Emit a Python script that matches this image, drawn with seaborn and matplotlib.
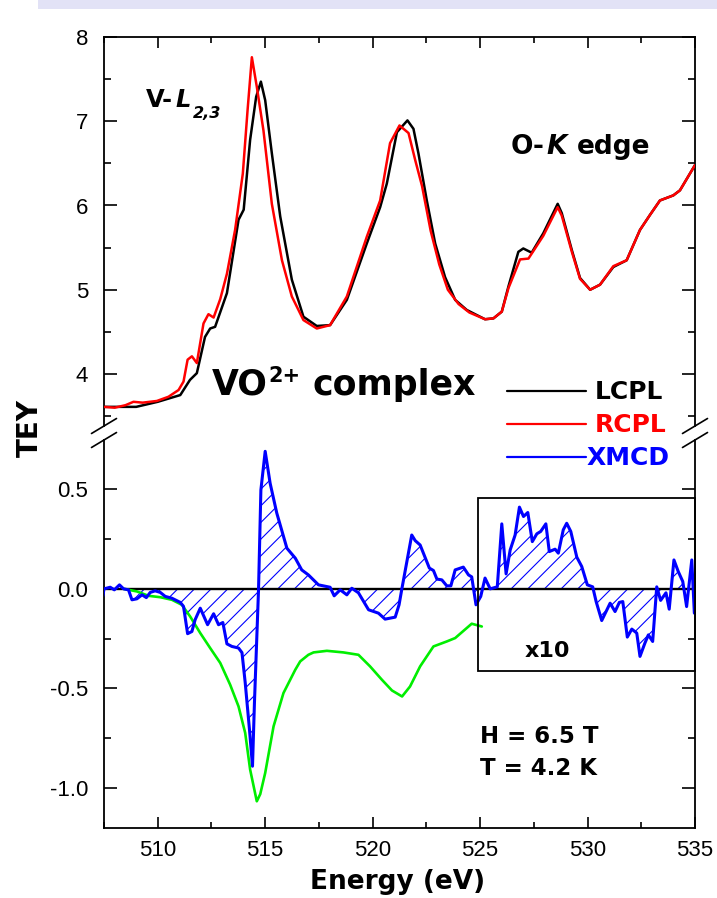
import numpy as np
import pandas as pd
import matplotlib
matplotlib.use("Agg")
import matplotlib.pyplot as plt
import seaborn as sns
from matplotlib.lines import Line2D
from matplotlib.patches import Rectangle
from matplotlib.ticker import MultipleLocator, FixedLocator

# ---------------- data ----------------
E_lcpl = [507.5, 509.0, 510.0, 511.05, 511.5, 511.82, 512.2, 512.44, 512.67, 513.22, 513.76, 514.0,
          514.3, 514.58, 514.8, 515.0, 515.31, 515.7, 516.24, 516.78, 517.4, 518.02, 518.8, 519.73,
          520.35, 520.66, 521.13, 521.62, 521.9, 522.13, 522.52, 522.91, 523.37, 523.84, 524.38, 525.23,
          525.62, 526.01, 526.32, 526.78, 527.01, 527.4, 527.94, 528.61, 528.8, 529.27, 529.65, 530.12,
          530.58, 531.2, 531.82, 532.44, 532.91, 533.37, 533.99, 534.3, 535.0]
tey_lcpl = [3.61, 3.61, 3.67, 3.75, 3.93, 4.01, 4.44, 4.54, 4.56, 4.96, 5.83, 5.95,
            6.78, 7.29, 7.47, 7.25, 6.62, 5.87, 5.12, 4.68, 4.57, 4.58, 4.88, 5.55,
            5.98, 6.26, 6.87, 7.01, 6.91, 6.62, 6.06, 5.55, 5.15, 4.88, 4.76, 4.65,
            4.66, 4.74, 5.04, 5.45, 5.49, 5.44, 5.67, 6.02, 5.91, 5.47, 5.14, 5.0,
            5.06, 5.27, 5.35, 5.71, 5.89, 6.06, 6.12, 6.18, 6.48]

E_rcpl = [507.5, 508.0, 508.5, 508.87, 509.3, 509.96, 510.5, 510.97, 511.2, 511.39, 511.59, 511.82,
          512.13, 512.36, 512.6, 512.91, 513.22, 513.6, 513.96, 514.18, 514.38, 514.61, 514.92, 515.31,
          515.78, 516.24, 516.78, 517.4, 518.02, 518.8, 519.73, 520.35, 520.81, 521.25, 521.67, 521.98,
          522.3, 522.7, 523.1, 523.5, 524.0, 524.5, 525.23, 525.62, 526.01, 526.32, 526.86, 527.25,
          527.94, 528.61, 528.8, 529.27, 529.65, 530.12, 530.58, 531.2, 531.82, 532.44, 532.91, 533.37,
          533.99, 534.3, 535.0]
tey_rcpl = [3.61, 3.60, 3.63, 3.67, 3.66, 3.68, 3.73, 3.81, 3.91, 4.17, 4.21, 4.13,
            4.60, 4.71, 4.67, 4.89, 5.19, 5.71, 6.38, 7.13, 7.76, 7.41, 6.89, 6.02,
            5.35, 4.92, 4.64, 4.54, 4.58, 4.92, 5.63, 6.06, 6.74, 6.95, 6.86, 6.54,
            6.23, 5.7, 5.3, 5.0, 4.83, 4.73, 4.65, 4.66, 4.74, 5.02, 5.36, 5.37,
            5.64, 5.98, 5.88, 5.45, 5.13, 5.0, 5.06, 5.28, 5.35, 5.71, 5.89, 6.06,
            6.12, 6.18, 6.48]

E_xmcd = [507.45, 507.5, 507.79, 507.98, 508.22, 508.41, 508.64, 508.8, 509.03, 509.27,
          509.47, 509.65, 509.88, 510.12, 510.35, 510.66, 511.05, 511.2, 511.39, 511.59,
          511.74, 511.98, 512.32, 512.6, 512.83, 513.03, 513.22, 513.45, 513.76, 513.92,
          514.07, 514.27, 514.41, 514.5, 514.69, 514.8, 515.0, 515.23, 515.54, 516.01,
          516.4, 516.7, 517.01, 517.48, 518.02, 518.21, 518.49, 518.8, 519.03, 519.34,
          519.81, 520.27, 520.58, 521.05, 521.23, 521.36, 521.82, 521.98, 522.21, 522.64,
          522.83, 522.99, 523.22, 523.45, 523.64, 523.84, 524.22, 524.46, 524.61, 524.81,
          525.03, 525.23, 525.47, 525.8, 526.01, 526.21, 526.4, 526.63, 526.83, 527.02,
          527.22, 527.43, 527.64, 527.82, 528.06, 528.22, 528.49, 528.64, 528.87, 529.03,
          529.22, 529.5, 529.73, 529.99, 530.24, 530.4, 530.66, 531.05, 531.28, 531.48,
          531.64, 531.85, 532.06, 532.29, 532.44, 532.67, 532.83, 533.03, 533.22, 533.4,
          533.65, 533.8, 534.02, 534.22, 534.43, 534.61, 534.85, 534.97]
xmcd = [-0.035, 0.0, 0.008, -0.005, 0.02, 0.0, -0.005, -0.055, -0.05, -0.03,
        -0.044, -0.018, -0.01, -0.018, -0.038, -0.047, -0.068, -0.088, -0.225, -0.214,
        -0.155, -0.097, -0.18, -0.125, -0.18, -0.169, -0.276, -0.289, -0.297, -0.32,
        -0.47, -0.707, -0.89, -0.573, -0.005, 0.496, 0.69, 0.53, 0.38, 0.204,
        0.154, 0.095, 0.07, 0.02, 0.008, -0.035, -0.005, -0.03, 0.003, -0.02,
        -0.105, -0.122, -0.152, -0.142, -0.08, 0.0, 0.27, 0.242, 0.22, 0.104,
        0.092, 0.049, 0.045, 0.015, 0.015, 0.095, 0.109, 0.07, 0.06, -0.08,
        -0.038, 0.054, 0.0, 0.01, 0.326, 0.075, 0.195, 0.27, 0.41, 0.363,
        0.383, 0.237, 0.276, 0.288, 0.326, 0.187, 0.199, 0.179, 0.296, 0.329,
        0.288, 0.159, 0.112, 0.02, 0.01, -0.064, -0.159, -0.072, -0.114, -0.068,
        -0.064, -0.242, -0.202, -0.222, -0.339, -0.272, -0.231, -0.264, 0.01, -0.058,
        -0.02, -0.102, 0.145, 0.087, 0.037, -0.089, 0.145, -0.122]

E_green = [508.41, 509.03, 509.57, 510.12, 510.66, 511.12, 511.51, 511.98, 512.44, 512.91,
           513.37, 513.76, 514.07, 514.3, 514.61, 514.77, 515.0, 515.39, 515.85, 516.4,
           516.63, 517.01, 517.25, 517.87, 518.64, 519.34, 519.88, 520.43, 520.9, 521.37,
           521.74, 522.21, 522.83, 523.45, 523.84, 524.61, 525.08]
green = [0.0, -0.013, -0.035, -0.042, -0.055, -0.08, -0.139, -0.222, -0.297, -0.372,
         -0.481, -0.59, -0.723, -0.907, -1.066, -1.03, -0.924, -0.69, -0.523, -0.406,
         -0.364, -0.331, -0.319, -0.311, -0.319, -0.331, -0.389, -0.456, -0.51, -0.54,
         -0.49, -0.389, -0.289, -0.264, -0.247, -0.175, -0.189]

x_ticks = [510, 515, 520, 525, 530, 535]
top_yticks = [4, 5, 6, 7, 8]
bot_yticks = [-1.0, -0.5, 0.0, 0.5]
legend_labels = ["LCPL", "RCPL", "XMCD"]

# ---------------- style ----------------
sns.set_theme(style="white")
plt.rcParams["font.family"] = ["Liberation Sans", "DejaVu Sans"]
plt.rcParams["text.color"] = "black"
plt.rcParams["axes.labelcolor"] = "black"
plt.rcParams["xtick.color"] = "black"
plt.rcParams["ytick.color"] = "black"
plt.rcParams["hatch.linewidth"] = 0.8
BOLD = dict(family=["DejaVu Sans"], fontweight="bold", color="black")

W, H = 717, 898
fig = plt.figure(figsize=(W / 100, H / 100), dpi=100)
fig.patch.set_facecolor("white")

# light banner at the very top (page fragment)
fig.patches.append(Rectangle((38 / W, 1 - 9 / H), 1 - 38 / W, 9 / H, transform=fig.transFigure,
                             facecolor="#e2e2f6", edgecolor="none", zorder=0))

Lpx, Rpx = 104, 695
ytop, ybrk, ybot = 37, 430, 828
ax1 = fig.add_axes([Lpx / W, 1 - ybrk / H, (Rpx - Lpx) / W, (ybrk - ytop) / H])
ax2 = fig.add_axes([Lpx / W, 1 - ybot / H, (Rpx - Lpx) / W, (ybot - ybrk) / H])

XLIM = (507.5, 535.0)
ax1.set_xlim(*XLIM)
ax2.set_xlim(*XLIM)
ax1.set_ylim(4 - (ybrk - 374) / 84.25, 4 + (374 - ytop) / 84.25)
ax2.set_ylim(-1.2, (589 - ybrk) / 199.5)

# ---------------- curves ----------------
df_l = pd.DataFrame({"E": E_lcpl, "TEY": tey_lcpl})
df_r = pd.DataFrame({"E": E_rcpl, "TEY": tey_rcpl})
df_x = pd.DataFrame({"E": E_xmcd, "XMCD": xmcd})
df_g = pd.DataFrame({"E": E_green, "G": green})

sns.lineplot(data=df_l, x="E", y="TEY", ax=ax1, color="black", lw=1.8, estimator=None, sort=False, zorder=3)
sns.lineplot(data=df_r, x="E", y="TEY", ax=ax1, color="#ff0000", lw=1.8, estimator=None, sort=False, zorder=4)

ax2.fill_between(df_x["E"], df_x["XMCD"], 0, interpolate=True, facecolor="none",
                 edgecolor="#0000ff", hatch="//", linewidth=0, zorder=1)
ax2.axhline(0, color="black", lw=1.7, zorder=2)
sns.lineplot(data=df_g, x="E", y="G", ax=ax2, color="#00ee00", lw=1.9, estimator=None, sort=False, zorder=3)
sns.lineplot(data=df_x, x="E", y="XMCD", ax=ax2, color="#0000ff", lw=2.2, estimator=None, sort=False, zorder=4)

# x10 box
ax2.add_patch(Rectangle((524.88, -0.414), 535.0 - 524.88, 0.455 + 0.414, fill=False,
                        edgecolor="black", lw=1.3, clip_on=False, zorder=5))

# ---------------- axes styling ----------------
for ax in (ax1, ax2):
    ax.set_xlabel("")
    ax.set_ylabel("")
    ax.set_facecolor("none")
    for s in ax.spines.values():
        s.set_color("black")
        s.set_linewidth(1.3)
    ax.xaxis.set_major_locator(FixedLocator(x_ticks))
    ax.xaxis.set_minor_locator(MultipleLocator(2.5))
    ax.tick_params(which="both", direction="in", color="black", width=1.2,
                   left=True, right=True, labelsize=16, labelcolor="black")
    ax.tick_params(axis="y", which="major", length=9.4, pad=11.5)
    ax.tick_params(axis="y", which="minor", length=4.7)
    ax.tick_params(axis="x", which="major", length=7.8, pad=9)
    ax.tick_params(axis="x", which="minor", length=4.2)

ax1.spines["bottom"].set_visible(False)
ax2.spines["top"].set_visible(False)
ax1.tick_params(axis="x", which="both", top=True, bottom=False, labelbottom=False, labeltop=False)
ax2.tick_params(axis="x", which="both", top=False, bottom=True, labelbottom=True)
ax1.yaxis.set_major_locator(FixedLocator(top_yticks))
ax1.yaxis.set_minor_locator(FixedLocator([3.5, 4.5, 5.5, 6.5, 7.5]))
ax1.set_yticklabels([str(t) for t in top_yticks])
ax2.yaxis.set_major_locator(FixedLocator(bot_yticks))
ax2.yaxis.set_minor_locator(FixedLocator([-0.75, -0.25, 0.25]))
ax2.set_yticklabels([f"{t:.1f}" for t in bot_yticks])
ax2.set_xticklabels([str(t) for t in x_ticks])

# spine gap at the axis break
y1_end = 4 - (426 - 374) / 84.25
y2_end = (589 - 440) / 199.5
for s in ("left", "right"):
    ax1.spines[s].set_bounds(y1_end, ax1.get_ylim()[1])
    ax2.spines[s].set_bounds(-1.2, y2_end)

def fig_line(x0, y0, x1, y1, **kw):
    fig.add_artist(Line2D([x0 / W, x1 / W], [1 - y0 / H, 1 - y1 / H], transform=fig.transFigure, **kw))

for cx in (Lpx, Rpx):
    for cy in (426, 440):
        fig_line(cx - 12.5, cy + 7.5, cx + 12.5, cy - 7.5, color="black", lw=1.2)

# ---------------- labels ----------------
fig.text(310 / W, 1 - 889 / H, "Energy (eV)", ha="left", va="baseline", fontsize=19, **BOLD)
fig.text(30 / W, 1 - 428 / H, "TEY", ha="center", va="center", rotation=90, fontsize=20, **BOLD)

fig.canvas.draw()
rend = fig.canvas.get_renderer()

def chain(x0, y0, pieces):
    x = x0
    for s, kw, dy, gap in pieces:
        t = fig.text(x / W, 1 - (y0 + dy) / H, s, ha="left", va="baseline", **kw)
        bb = t.get_window_extent(renderer=rend)
        x += bb.width + gap

chain(146, 107, [("V-", dict(fontsize=17.5, **BOLD), 0, 2),
                 ("L", dict(fontsize=17.5, fontstyle="italic", **BOLD), 0, 2),
                 ("2,3", dict(fontsize=11.5, fontstyle="italic", **BOLD), 11, 0)])
chain(511, 154, [("O-", dict(fontsize=19, **BOLD), 0, 2),
                 ("K", dict(fontsize=19, fontstyle="italic", **BOLD), 0, 10),
                 ("edge", dict(fontsize=19, **BOLD), 0, 0)])
chain(212, 395, [("VO", dict(fontsize=25, **BOLD), 0, 1),
                 ("2+", dict(fontsize=15, **BOLD), -13, 12),
                 ("complex", dict(fontsize=25, **BOLD), 0, 0)])

# legend (drawn manually, spans the axis break)
leg_colors = ["black", "#ff0000", "#0000ff"]
leg_y = [391, 424, 457]
leg_x = [595, 595, 587]
leg_base = [399, 432, 465]
for lab, col, yl, xt, yb in zip(legend_labels, leg_colors, leg_y, leg_x, leg_base):
    fig_line(507, yl, 586, yl, color=col, lw=1.6)
    kw = dict(BOLD)
    kw["color"] = col
    fig.text(xt / W, 1 - yb / H, lab, ha="left", va="baseline", fontsize=18, **kw)

fig.text(525 / W, 1 - 657 / H, "x10", ha="left", va="baseline", fontsize=16, **BOLD)
fig.text(480 / W, 1 - 743 / H, "H = 6.5 T", ha="left", va="baseline", fontsize=16.5, **BOLD)
fig.text(480 / W, 1 - 775 / H, "T = 4.2 K", ha="left", va="baseline", fontsize=16.5, **BOLD)

fig.savefig("out.png", dpi=100)
